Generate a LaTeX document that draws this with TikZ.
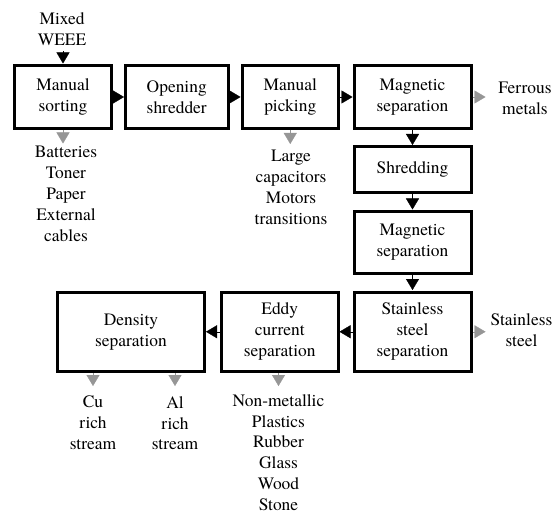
\documentclass[tikz,border=0pt]{standalone}
\usepackage{fontspec}
\newfontfamily\diagfont{texgyretermes-regular.otf}
\usetikzlibrary{arrows.meta}
\definecolor{tipgray}{RGB}{150,150,150}
\begin{document}
\begin{tikzpicture}[x=1bp,y=-1bp,
  every node/.style={font=\diagfont\fontsize{17.5}{21}\selectfont, align=center, inner sep=0pt},
  box/.style={draw=black, line width=3bp, line join=miter},
  lbl/.style={anchor=north},
  arr/.style={line width=0.3bp, -{Triangle[length=11bp,width=13bp]}, black},
  garr/.style={line width=0.3bp, tipgray, -{Triangle[length=11bp,width=13bp]}}]
\useasboundingbox (0,0) rectangle (559,513);
% boxes
\node[box, minimum width=96bp, minimum height=63bp] (b1) at (63,97) {Manual\\sorting};
\node[box, minimum width=102.5bp, minimum height=63bp] (b2) at (176.75,97) {Opening\\shredder};
\node[box, minimum width=96.5bp, minimum height=63bp] (b3) at (290.25,97) {Manual\\picking};
\node[box, minimum width=117bp, minimum height=63bp] (b4) at (412.5,97) {Magnetic\\separation};
\node[box, minimum width=117bp, minimum height=45.5bp] (b5) at (412.5,169.75) {Shredding};
\node[box, minimum width=117bp, minimum height=62bp] (b6) at (412.5,242.5) {Magnetic\\separation};
\node[box, minimum width=117bp, minimum height=79.5bp] (b7) at (412.5,331.75) {Stainless\\steel\\separation};
\node[box, minimum width=116.5bp, minimum height=79.5bp] (b8) at (279.75,331.75) {Eddy\\current\\separation};
\node[box, minimum width=147bp, minimum height=79.5bp] (b9) at (131,331.75) {Density\\separation};
% labels
\node[lbl] (tin) at (62,12) {Mixed\\WEEE};
\node[lbl] (t1) at (66,146) {Batteries\\Toner\\Paper\\External\\cables};
\node[lbl] (t3) at (291,150) {Large\\capacitors\\Motors\\transitions};
\node[lbl] (t4) at (525,81.5) {Ferrous\\metals};
\node[lbl] (t7) at (521.5,313) {Stainless\\steel};
\node[lbl] (t8) at (278.5,394) {Non-metallic\\Plastics\\Rubber\\Glass\\Wood\\Stone};
\node[lbl] (tcu) at (93,396) {Cu\\rich\\stream};
\node[lbl] (tal) at (175,396) {Al\\rich\\stream};
% main flow
\draw[arr, shorten >=0.5bp] (b1.north |- tin.south) ++(0,6) coordinate (cin) -- (b1.north);
\draw[arr] (b1) -- (b2);
\draw[arr] (b2) -- (b3);
\draw[arr] (b3) -- (b4);
\draw[arr, shorten >=0.5bp] (b4) -- (b5);
\draw[arr, shorten >=0.5bp] (b5) -- (b6);
\draw[arr, shorten >=0.5bp] (b6) -- (b7);
\draw[arr] (b7) -- (b8);
\draw[arr] (b8) -- (b9);
% outputs
\draw[garr, shorten >=2.5bp] (b1.south) -- (b1.south |- t1.north);
\draw[garr, shorten >=6bp] (b3.south) -- (b3.south |- t3.north);
\draw[garr] (b4.east) -- ++(13,0) coordinate (c4);
\draw[garr] (b7.east) -- ++(13,0) coordinate (c7);
\draw[garr, shorten >=8bp] (b8.south -| t8.north) -- (t8.north);
\draw[garr, shorten >=10bp] (b9.south -| tcu.north) -- (tcu.north);
\draw[garr, shorten >=10bp] (b9.south -| tal.north) -- (tal.north);
\end{tikzpicture}
\end{document}
